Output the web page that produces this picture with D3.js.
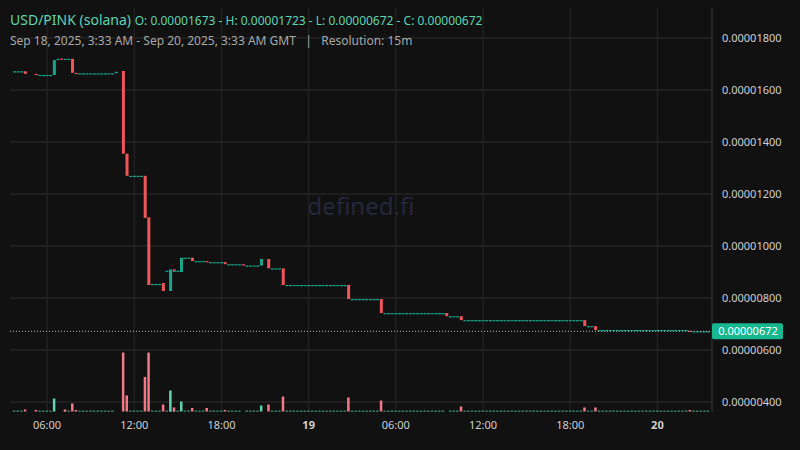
<!DOCTYPE html><html><head><meta charset="utf-8"><script src="https://cdn.jsdelivr.net/npm/d3@7"></script>
<style>body{margin:0;background:#111111}svg{display:block}</style></head><body><svg id="c" width="800" height="450"></svg><script>
// times: hours since Sep 18 2025 00:00 GMT; prices in 1e-6 units
const candleT = [4.5,5.25,6.5,6.75,7.0,7.75,8.0,10.75,11.25,11.5,12.75,13.0,14.0,14.5,14.75,15.25,16.0,17.0,18.25,19.5,20.75,21.25,22.25,26.75,29.0,33.5,34.5,43.0,43.75,50.25];
const candleO = [16.72,16.62,16.58,17.15,17.21,17.2,16.66,16.64,16.73,13.55,12.7,11.1,8.58,8.27,9.1,9.0,9.55,9.42,9.38,9.3,9.25,9.5,9.14,8.5,7.96,7.42,7.3,7.15,6.92,6.74];
const candleC = [16.62,16.58,17.15,17.2,17.19,16.66,16.64,16.7,13.55,12.7,11.08,8.5,8.27,9.1,9.05,9.55,9.42,9.38,9.3,9.25,9.5,9.14,8.5,7.96,7.42,7.3,7.15,6.92,6.77,6.72];
// flat runs: start hour, end hour, price
const flatStart = [3.75,5.5,7.25,8.25,11.75,13.25,14.25,15.5,16.25,17.25,18.5,19.75,21.5,22.5,27.0,29.25,33.75,34.75,43.25,44.0,50.5];
const flatEnd   = [4.25,6.25,7.5,10.5,12.5,13.75,15.0,15.75,16.75,18.0,19.25,20.5,22.0,26.5,28.75,33.25,34.25,42.75,43.5,50.0,51.5];
const flatP     = [16.72,16.58,17.2,16.64,12.7,8.54,9.05,9.55,9.42,9.38,9.3,9.25,9.14,8.5,7.96,7.42,7.3,7.15,6.92,6.77,6.72];
const volT = [4.5,5.25,6.5,7.25,7.75,8.0,11.25,11.5,12.75,13.0,14.0,14.5,14.75,15.25,16.0,17.0,18.25,20.75,21.25,22.25,26.75,29.0,34.5,43.0,43.75,50.25];
const volV = [2,1.5,13,2,8,1.5,59,16,34.6,59,7,21,4,10,3.5,3.5,1.5,6,7,15,14,11,5,4,4,1.5];
const volUp= [0,0,1,0,0,0,0,0,0,0,0,1,0,1,0,0,0,1,0,0,0,0,0,0,0,0];
const yTicks = [4,6,8,10,12,14,16,18];
const lastPrice = 6.72;

const svg = d3.select("#c");
const t0 = new Date(Date.UTC(2025,8,18,3,33)), t1 = new Date(Date.UTC(2025,8,20,3,33));
const hr = h => new Date(Date.UTC(2025,8,18) + h*3600000);
const x = d3.scaleUtc().domain([t0,t1]).range([11.5,709]);
const y = d3.scaleLinear().domain([4,18]).range([402,38]);
const yv = d3.scaleLinear().domain([0,60]).range([411.5,351.5]);
const L=10,R=712;
const red="#f0545c", green="#1aa58a", vred="#f07a88", vgreen="#5fd3b0";

// grid
svg.append("g").selectAll("line").data(yTicks).join("line").attr("x1",L).attr("x2",R)
 .attr("y1",d=>y(d)).attr("y2",d=>y(d)).attr("stroke","#2c2c2c");
const xt = x.ticks(d3.utcHour.every(6));
svg.append("g").selectAll("line").data(xt).join("line").attr("x1",d=>x(d)).attr("x2",d=>x(d))
 .attr("y1",8).attr("y2",412).attr("stroke","#262626");
svg.append("line").attr("x1",R).attr("x2",R).attr("y1",8).attr("y2",412).attr("stroke","#3a3a3a");

// watermark
svg.append("text").attr("x",361).attr("y",215).attr("text-anchor","middle").attr("font-family","Noto Sans")
 .attr("font-size",24).attr("fill","#26263a").text("defined.fi");

// volume
const vols = [];
flatStart.forEach((s,i)=>{for(let h=s;h<=flatEnd[i]+1e-9;h+=0.25) vols.push({t:h,v:0.8,up:1});});
volT.forEach((t,i)=>vols.push({t,v:volV[i],up:volUp[i]}));
svg.append("g").selectAll("rect").data(vols).join("rect")
 .attr("x",d=>x(hr(d.t))-1.5).attr("width",2.5).attr("y",d=>yv(d.v)).attr("height",d=>yv(0)-yv(d.v))
 .attr("fill",d=>d.up?vgreen:vred);

// candles
const cs = [];
flatStart.forEach((s,i)=>{for(let h=s;h<=flatEnd[i]+1e-9;h+=0.25) cs.push({t:h,o:flatP[i],c:flatP[i]});});
candleT.forEach((t,i)=>cs.push({t,o:candleO[i],c:candleC[i]}));
svg.append("g").selectAll("rect").data(cs).join("rect")
 .attr("x",d=>x(hr(d.t))-1.5).attr("width",3)
 .attr("y",d=>y(Math.max(d.o,d.c))).attr("height",d=>Math.max(1.2,Math.abs(y(d.o)-y(d.c))))
 .attr("fill",d=>d.c>=d.o?green:red);

// last price line
svg.append("line").attr("x1",L).attr("x2",R).attr("y1",y(lastPrice)).attr("y2",y(lastPrice))
 .attr("stroke","#bbbbbb").attr("stroke-dasharray","1,2");
svg.append("rect").attr("x",R).attr("y",y(lastPrice)-8).attr("width",71).attr("height",16).attr("rx",2).attr("fill","#17b890");
svg.append("text").attr("x",R+36).attr("y",y(lastPrice)+4).attr("text-anchor","middle").attr("font-family","Noto Sans")
 .attr("font-size",11).attr("fill","#ffffff").text(d3.format(".8f")(lastPrice/1e6));

// y axis labels
svg.append("g").selectAll("text").data(yTicks).join("text").attr("x",722).attr("y",d=>y(d)+4)
 .attr("font-family","Noto Sans").attr("font-size",11).attr("fill","#cfcfcf").text(d=>d3.format(".8f")(d/1e6));

// x axis labels
svg.append("g").selectAll("text").data(xt).join("text").attr("x",d=>x(d)).attr("y",429).attr("text-anchor","middle")
 .attr("font-family","Noto Sans").attr("font-size",11).attr("fill","#cfcfcf")
 .attr("font-weight",d=>d.getUTCHours()===0?"bold":"normal")
 .text(d=>d.getUTCHours()===0?d3.utcFormat("%-d")(d):d3.utcFormat("%H:%M")(d));

// header
const h1 = svg.append("text").attr("x",10).attr("y",25).attr("font-family","Noto Sans").attr("fill","#5fd3b0");
h1.append("tspan").attr("font-size",14).text("USD/PINK (solana) ");
h1.append("tspan").attr("font-size",12).text(" O: 0.00001673 - H: 0.00001723 - L: 0.00000672 - C: 0.00000672");
svg.append("text").attr("x",10).attr("y",45).attr("font-family","Noto Sans").attr("font-size",12).attr("fill","#a8a8a8")
 .attr("xml:space","preserve").text("Sep 18, 2025, 3:33 AM - Sep 20, 2025, 3:33 AM GMT   |   Resolution: 15m");
</script></body></html>
